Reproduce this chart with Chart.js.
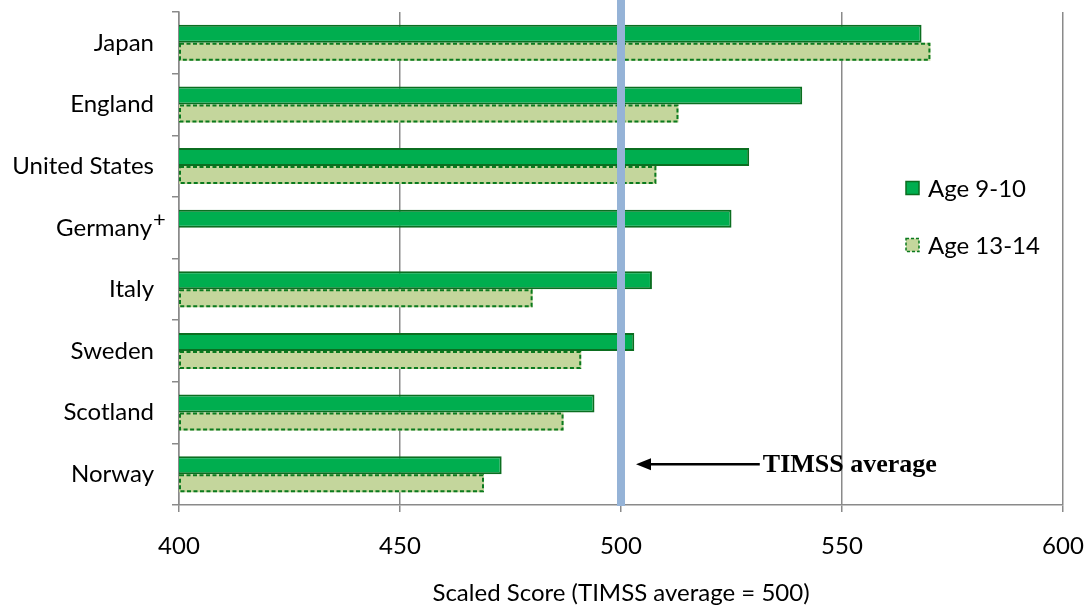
<!DOCTYPE html>
<html>
<head>
<meta charset="utf-8">
<script src="https://cdn.jsdelivr.net/npm/chart.js@4.4.1/dist/chart.umd.min.js"></script>
<style>
  html, body { margin: 0; padding: 0; background: #fff; }
  #wrap { width: 1089px; height: 609px; position: relative; }
</style>
</head>
<body>
<div id="wrap"><canvas id="c" width="1089" height="609"></canvas></div>
<script>
const categories = ["Japan", "England", "United States", "Germany+", "Italy", "Sweden", "Scotland", "Norway"];
const age9to10 = [568, 541, 529, 525, 507, 503, 494, 473];
const age13to14 = [570, 513, 508, null, 480, 491, 487, 469];
const seriesNames = ["Age 9-10", "Age 13-14"];
const xTicks = [400, 450, 500, 550, 600];
const timssAverage = 500;
const xTitle = "Scaled Score (TIMSS average = 500)";
const annotationText = "TIMSS average";

const FONT = "Lato, 'Open Sans', sans-serif";
const FS = 24;
const DARK_FILL = '#00AE4F';
const DARK_BORDER = '#0B6E20';
const LIGHT_FILL = '#C4D69C';
const LIGHT_BORDER = '#0A7A1E';
const GRID = '#8A8A8A';

const overlay = {
  id: 'overlay',
  afterDatasetsDraw(chart) {
    const ctx = chart.ctx;
    const xs = chart.scales.x, ys = chart.scales.y;
    const area = chart.chartArea;
    // dashed borders for second series
    const meta = chart.getDatasetMeta(1);
    ctx.save();
    ctx.strokeStyle = LIGHT_BORDER;
    ctx.lineWidth = 2;
    ctx.setLineDash([4, 2.5]);
    meta.data.forEach((el, i) => {
      if (age13to14[i] == null) return;
      const p = el.getProps(['x', 'y', 'base', 'height'], true);
      const l = Math.max(area.left, Math.min(p.base, p.x));
      const r = Math.max(p.base, p.x);
      ctx.strokeRect(l + 1, p.y - p.height / 2 + 1, r - l - 2, p.height - 2);
    });
    ctx.restore();

    // average line
    const ax = xs.getPixelForValue(timssAverage);
    ctx.save();
    ctx.strokeStyle = '#95B3D7';
    ctx.lineWidth = 8;
    ctx.beginPath();
    ctx.moveTo(ax, 0);
    ctx.lineTo(ax, area.bottom + 1);
    ctx.stroke();
    ctx.restore();

    // arrow + text
    const ay = ys.getPixelForValue(categories.length - 1) - 10;
    const tipX = xs.getPixelForValue(503.4);
    const endX = xs.getPixelForValue(531.4);
    ctx.save();
    ctx.strokeStyle = '#000';
    ctx.fillStyle = '#000';
    ctx.lineWidth = 2.5;
    ctx.beginPath();
    ctx.moveTo(tipX + 12, ay);
    ctx.lineTo(endX, ay);
    ctx.stroke();
    ctx.beginPath();
    ctx.moveTo(tipX, ay);
    ctx.lineTo(tipX + 15, ay - 6);
    ctx.lineTo(tipX + 15, ay + 6);
    ctx.closePath();
    ctx.fill();
    ctx.font = "bold 26px 'Liberation Serif', 'DejaVu Serif', serif";
    ctx.textBaseline = 'middle';
    ctx.textAlign = 'left';
    ctx.fillText(annotationText, endX + 3, ay + 1);
    ctx.restore();

    // legend
    ctx.save();
    const lx = area.right - 157;
    const ly = [188, 245];
    ctx.font = FS + "px " + FONT;
    ctx.textBaseline = 'middle';
    ctx.textAlign = 'left';
    ctx.fillStyle = DARK_FILL;
    ctx.fillRect(lx, ly[0] - 6.5, 13, 13);
    ctx.strokeStyle = DARK_BORDER;
    ctx.lineWidth = 1.5;
    ctx.strokeRect(lx, ly[0] - 6.5, 13, 13);
    ctx.fillStyle = '#000';
    ctx.fillText(seriesNames[0], lx + 22, ly[0] + 1);
    ctx.fillStyle = LIGHT_FILL;
    ctx.fillRect(lx, ly[1] - 6.5, 13, 13);
    ctx.strokeStyle = LIGHT_BORDER;
    ctx.setLineDash([3, 2]);
    ctx.strokeRect(lx, ly[1] - 6.5, 13, 13);
    ctx.setLineDash([]);
    ctx.fillStyle = '#000';
    ctx.fillText(seriesNames[1], lx + 22, ly[1] + 1);
    ctx.restore();
  },
  afterDraw(chart) {
    const ctx = chart.ctx;
    const ys = chart.scales.y;
    const idx = categories.findIndex(c => c.endsWith('+'));
    if (idx < 0) return;
    const y = ys.getPixelForValue(idx);
    const rightEdge = chart.chartArea.left - 7 - 18;
    ctx.save();
    ctx.font = FS + "px " + FONT;
    const w = ctx.measureText(categories[idx].slice(0, -1)).width;
    ctx.fillStyle = '#fff';
    ctx.fillRect(rightEdge - w - 2, y - 17, w + 4, 34);
    ctx.fillStyle = '#000';
    ctx.textBaseline = 'middle';
    ctx.textAlign = 'right';
    ctx.fillText(categories[idx].slice(0, -1), rightEdge - 2, y + 1);
    ctx.font = "22px " + FONT;
    ctx.textAlign = 'left';
    ctx.fillText('+', rightEdge - 1, y - 8);
    ctx.restore();
  }
};

new Chart(document.getElementById('c'), {
  type: 'bar',
  data: {
    labels: categories,
    datasets: [
      { label: seriesNames[0], data: age9to10, backgroundColor: DARK_FILL, borderColor: DARK_BORDER, borderWidth: 2, borderSkipped: false },
      { label: seriesNames[1], data: age13to14, backgroundColor: LIGHT_FILL, borderWidth: 0 }
    ]
  },
  options: {
    indexAxis: 'y',
    responsive: false,
    animation: false,
    devicePixelRatio: 1,
    layout: { padding: { top: 12, right: 26, left: 0, bottom: 0 } },
    datasets: { bar: { categoryPercentage: 0.585, barPercentage: 1.0 } },
    plugins: { legend: { display: false }, tooltip: { enabled: false } },
    scales: {
      x: {
        min: 400, max: 600,
        afterFit(scale) { scale.height = 104; scale.paddingLeft = 0; scale.paddingRight = 0; },
        afterBuildTicks(scale) { scale.ticks = xTicks.map(v => ({ value: v })); },
        ticks: { font: { family: FONT, size: FS }, color: '#000', padding: 20 },
        grid: { color: GRID, lineWidth: 1.5, tickLength: 7 },
        border: { display: true, color: GRID, width: 1.5 },
        title: { display: true, text: xTitle, font: { family: FONT, size: FS }, color: '#000', padding: { top: 0, bottom: 1 } }
      },
      y: {
        afterFit(scale) { scale.width = 179; scale.paddingTop = 0; scale.paddingBottom = 0; },
        ticks: {
          font: { family: FONT, size: FS }, color: '#000', padding: 18,
          callback(v, i) { return categories[i].replace('+', ''); }
        },
        grid: { offset: true, drawOnChartArea: false, color: GRID, lineWidth: 1.5, tickLength: 7 },
        border: { display: true, color: GRID, width: 1.5 }
      }
    }
  },
  plugins: [overlay]
});
</script>
</body>
</html>
